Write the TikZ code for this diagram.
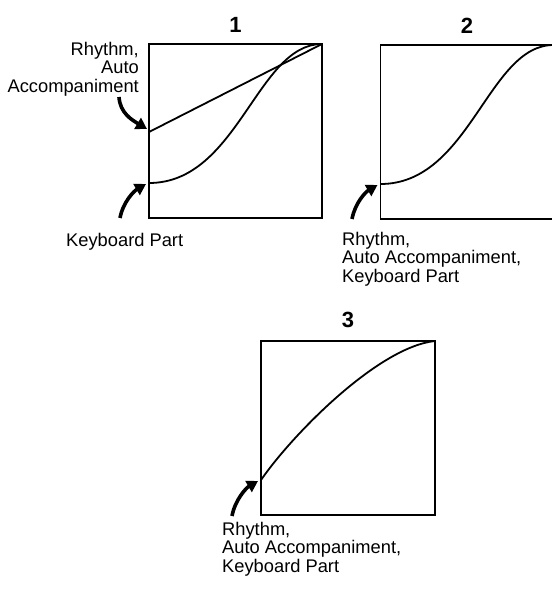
\documentclass[tikz,border=0pt]{standalone}
\usepackage{fontspec}
\setmainfont{Liberation Sans}
\usepackage{tikz}
\usetikzlibrary{arrows.meta, positioning}

\tikzset{
    graphbox/.style={draw, line width=1.3pt, minimum width=173pt, minimum height=174pt, inner sep=0pt, outer sep=0pt},
    curve/.style={line width=1.8pt},
    pointer/.style={line width=3.6pt, -{Triangle[length=11pt, width=12.5pt]}},
    caption/.style={inner sep=0pt, font=\fontsize{18.3}{18.3}\selectfont},
    number/.style={inner sep=0pt, font=\fontsize{22}{22}\selectfont\bfseries}
}

\begin{document}
\begin{tikzpicture}[x=1pt, y=-1pt]
    \useasboundingbox (0,0) rectangle (552,590);

    % the three graphs
    \node[graphbox] (box1) at (235.5,131) {};
    \node[graphbox] (box2) at (467,132) {};
    \node[graphbox, minimum width=174pt] (box3) at (348,428) {};

    \node[number, above=11pt of box1] (num1) {1};
    \node[number, above=11pt of box2] (num2) {2};
    \node[number, above=13pt of box3] (num3) {3};

    % curve start points
    \coordinate (line1) at (149,132);
    \coordinate (kbd1) at (149,183);
    \coordinate (all2) at (380.5,184);
    \coordinate (all3) at (261,480);

    % graph 1
    \draw[curve] (line1) -- (box1.north east);
    \draw[curve] (kbd1) .. controls (238,183) and (257,44) .. (box1.north east);
    % graph 2
    \draw[curve] (all2) .. controls (470,184) and (488,45) .. (553.5,45);
    % graph 3
    \draw[curve] (all3) .. controls (292,435) and (378,347) .. (box3.north east);

    % arrows
    \coordinate (from1) at (119,97);
    \coordinate (from2) at (120,218);
    \coordinate (from3) at (352,219);
    \coordinate (from4) at (232,516);
    \draw[pointer] (from1) .. controls +(1,16) and +(-15,-9) .. ([shift={(-2,-3)}]line1);
    \draw[pointer] (from2) .. controls +(3,-16) and +(-12,7) .. ([shift={(-3,1)}]kbd1);
    \draw[pointer] (from3) .. controls +(3,-16) and +(-12,7) .. ([shift={(-3,1)}]all2);
    \draw[pointer] (from4) .. controls +(3,-16) and +(-12,7) .. ([shift={(-3,1)}]all3);

    % labels
    \node[caption, align=right, anchor=north east] (lab1) at (139,42) {Rhythm,\\Auto\\Accompaniment};
    \node[caption, anchor=base west] (lab2) at (66,246.5) {Keyboard Part};
    \node[caption, align=left, anchor=north west] (lab3) at (342,232) {Rhythm,\\Auto Accompaniment,\\Keyboard Part};
    \node[caption, align=left, anchor=north west] (lab4) at (222,522) {Rhythm,\\Auto Accompaniment,\\Keyboard Part};
\end{tikzpicture}
\end{document}
